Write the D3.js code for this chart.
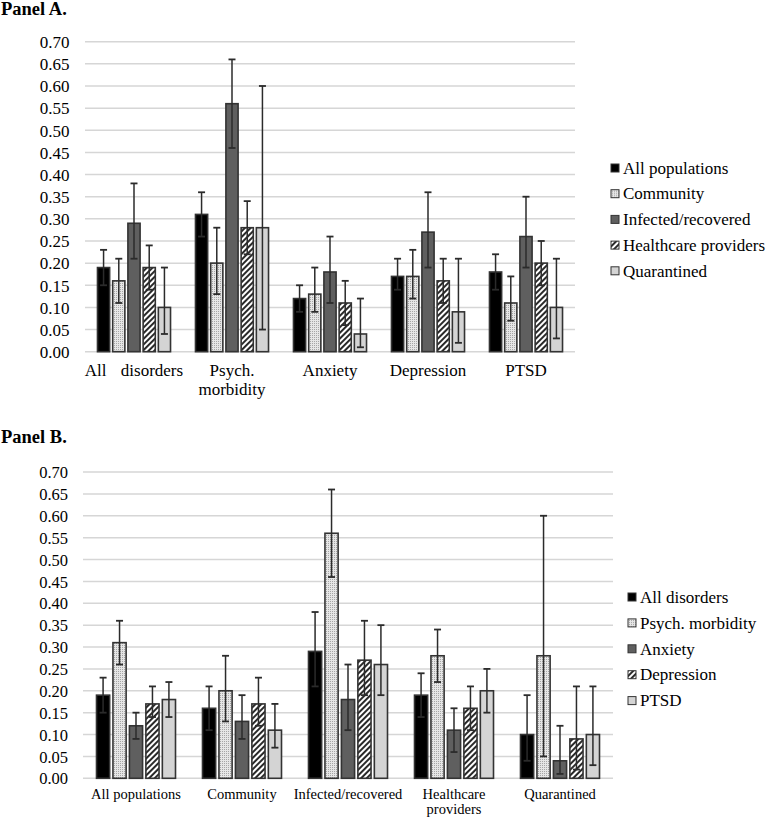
<!DOCTYPE html>
<html><head><meta charset="utf-8">
<script src="https://cdn.jsdelivr.net/npm/d3@7"></script>
<style>
html,body{margin:0;padding:0;background:#fff;}
svg text{font-family:"Liberation Serif","Tinos","Times New Roman","DejaVu Serif",serif !important;fill:#000;}
</style></head>
<body><svg id="c" width="767" height="818"></svg>
<script>
// ---- data ----
const disorders = ["All disorders", "Psych. morbidity", "Anxiety", "Depression", "PTSD"];
const populations = ["All populations", "Community", "Infected/recovered", "Healthcare providers", "Quarantined"];
// prevalence [population][disorder]
const prevalence = [
  [0.19, 0.31, 0.12, 0.17, 0.18],
  [0.16, 0.20, 0.13, 0.17, 0.11],
  [0.29, 0.56, 0.18, 0.27, 0.26],
  [0.19, 0.28, 0.11, 0.16, 0.20],
  [0.10, 0.28, 0.04, 0.09, 0.10]
];
const lowerCI = [
  [0.15, 0.26, 0.09, 0.14, 0.14],
  [0.11, 0.13, 0.09, 0.12, 0.07],
  [0.21, 0.46, 0.11, 0.19, 0.19],
  [0.14, 0.22, 0.06, 0.11, 0.15],
  [0.04, 0.05, 0.01, 0.02, 0.03]
];
const upperCI = [
  [0.23, 0.36, 0.15, 0.21, 0.22],
  [0.21, 0.28, 0.19, 0.23, 0.17],
  [0.38, 0.66, 0.26, 0.36, 0.35],
  [0.24, 0.34, 0.16, 0.21, 0.25],
  [0.19, 0.60, 0.12, 0.21, 0.21]
];
const yTickValues = [0, 0.05, 0.10, 0.15, 0.20, 0.25, 0.30, 0.35, 0.40, 0.45, 0.50, 0.55, 0.60, 0.65, 0.70];
const groupLabelsA = [["All disorders"], ["Psych.", "morbidity"], ["Anxiety"], ["Depression"], ["PTSD"]];
const groupLabelsB = [["All populations"], ["Community"], ["Infected/recovered"], ["Healthcare", "providers"], ["Quarantined"]];

// ---- drawing ----
const FONT = '"Liberation Serif","Tinos","Times New Roman","DejaVu Serif",serif';
const svg = d3.select("#c");
svg.append("rect").attr("width", 767).attr("height", 818).attr("fill", "#fff");

const defs = svg.append("defs");
const dots = defs.append("pattern").attr("id", "dots").attr("patternUnits", "userSpaceOnUse")
  .attr("width", 2).attr("height", 2);
dots.append("rect").attr("width", 2).attr("height", 2).attr("fill", "#e6e6e6");
dots.append("rect").attr("x", 1).attr("y", 1).attr("width", 1).attr("height", 1).attr("fill", "#a6a6a6");
const hatch = defs.append("pattern").attr("id", "hatch").attr("patternUnits", "userSpaceOnUse")
  .attr("width", 4).attr("height", 4).attr("patternTransform", "rotate(45)");
hatch.append("rect").attr("width", 4).attr("height", 4).attr("fill", "#fff");
hatch.append("line").attr("x1", 1).attr("y1", 0).attr("x2", 1).attr("y2", 4)
  .attr("stroke", "#111").attr("stroke-width", 1.8);

const fills = ["#000000", "url(#dots)", "#5f5f5f", "url(#hatch)", "#d4d4d4"];

function panel(cfg) {
  const g = svg.append("g").attr("font-family", FONT);
  g.append("text").attr("x", 1).attr("y", cfg.titleY).attr("font-size", 18.5)
    .attr("font-weight", "bold").text(cfg.title);

  const y = d3.scaleLinear().domain([0, 0.70]).range([cfg.y0, cfg.y1]);
  const x0 = d3.scaleBand().domain(cfg.groups).range([cfg.xL, cfg.xR]);
  const x1 = d3.scaleBand().domain(cfg.series).range([0, x0.bandwidth()])
    .paddingInner(0.2).paddingOuter(0.82);

  // gridlines
  g.append("g").selectAll("line").data(yTickValues).join("line")
    .attr("x1", cfg.xL).attr("x2", cfg.xR)
    .attr("y1", d => y(d)).attr("y2", d => y(d))
    .attr("stroke", "#d6d6d6").attr("stroke-width", 1.5);

  // y axis labels
  const ax = g.append("g").attr("transform", `translate(${cfg.xL},0)`)
    .call(d3.axisLeft(y).tickValues(yTickValues).tickFormat(d3.format(".2f")).tickSize(0).tickPadding(cfg.tickPad));
  ax.attr("font-family", FONT);
  ax.select(".domain").remove();
  ax.selectAll("text").attr("font-size", cfg.tickFont).attr("font-family", FONT)
    .attr("fill", "#000").attr("dy", "0.34em");

  // bars
  const groupsG = g.append("g").selectAll("g").data(cfg.groups).join("g")
    .attr("transform", d => `translate(${x0(d)},0)`);
  groupsG.each(function(grp, gi) {
    const gg = d3.select(this);
    const recs = cfg.series.map((s, si) => ({
      s, si, v: cfg.val(gi, si), lo: cfg.lo(gi, si), hi: cfg.hi(gi, si)
    }));
    gg.selectAll("rect").data(recs).join("rect")
      .attr("x", d => x1(d.s)).attr("width", x1.bandwidth())
      .attr("y", d => y(d.v)).attr("height", d => y(0) - y(d.v))
      .attr("fill", d => fills[d.si]).attr("stroke", "#333").attr("stroke-width", 1.6);
    const eb = gg.selectAll("g.eb").data(recs).join("g").attr("class", "eb")
      .attr("transform", d => `translate(${x1(d.s) + x1.bandwidth() / 2},0)`);
    eb.append("line").attr("y1", d => y(d.lo)).attr("y2", d => y(d.hi))
      .attr("stroke", "#2b2b2b").attr("stroke-width", 1.5);
    eb.append("line").attr("x1", -3.5).attr("x2", 3.5).attr("y1", d => y(d.hi)).attr("y2", d => y(d.hi))
      .attr("stroke", "#2b2b2b").attr("stroke-width", 1.8);
    eb.append("line").attr("x1", -3.5).attr("x2", 3.5).attr("y1", d => y(d.lo)).attr("y2", d => y(d.lo))
      .attr("stroke", "#2b2b2b").attr("stroke-width", 1.8);
  });

  // x labels
  g.append("g").selectAll("text").data(cfg.groupLabels).join("text")
    .attr("x", (d, i) => x0(cfg.groups[i]) + x0.bandwidth() / 2)
    .attr("y", cfg.labelY).attr("text-anchor", "middle").attr("font-size", cfg.labelFont)
    .style("word-spacing", (d, i) => (cfg.wideFirst && i === 0) ? "10px" : null)
    .each(function(lines) {
      const t = d3.select(this);
      const cx = t.attr("x");
      lines.forEach((ln, li) => {
        t.append("tspan").attr("x", cx).attr("dy", li === 0 ? 0 : cfg.lineH).text(ln);
      });
    });

  // legend
  const lg = g.append("g").selectAll("g").data(cfg.series).join("g")
    .attr("transform", (d, i) => `translate(${cfg.legX},${cfg.legY + i * cfg.legStep})`);
  lg.append("rect").attr("x", 0).attr("y", -4).attr("width", 8).attr("height", 8)
    .attr("fill", (d, i) => fills[i]).attr("stroke", "#333").attr("stroke-width", 1);
  lg.append("text").attr("x", 12).attr("y", 0).attr("dy", "0.34em").attr("font-size", 17).text(d => d);
}

panel({
  title: "Panel A.", titleY: 15,
  groups: disorders, series: populations, groupLabels: groupLabelsA,
  val: (gi, si) => prevalence[si][gi], lo: (gi, si) => lowerCI[si][gi], hi: (gi, si) => upperCI[si][gi],
  y0: 351.7, y1: 41.7, xL: 85, xR: 575, tickPad: 15.5, tickFont: 17,
  labelY: 376, lineH: 19, labelFont: 17, wideFirst: true,
  legX: 611, legY: 168, legStep: 25.7
});
panel({
  title: "Panel B.", titleY: 443,
  groups: populations, series: disorders, groupLabels: groupLabelsB,
  val: (gi, si) => prevalence[gi][si], lo: (gi, si) => lowerCI[gi][si], hi: (gi, si) => upperCI[gi][si],
  y0: 778.3, y1: 472, xL: 83, xR: 613, tickPad: 15, tickFont: 16.5,
  labelY: 799, lineH: 15, labelFont: 14.5, wideFirst: false,
  legX: 628, legY: 597, legStep: 25.9
});
</script></body></html>
